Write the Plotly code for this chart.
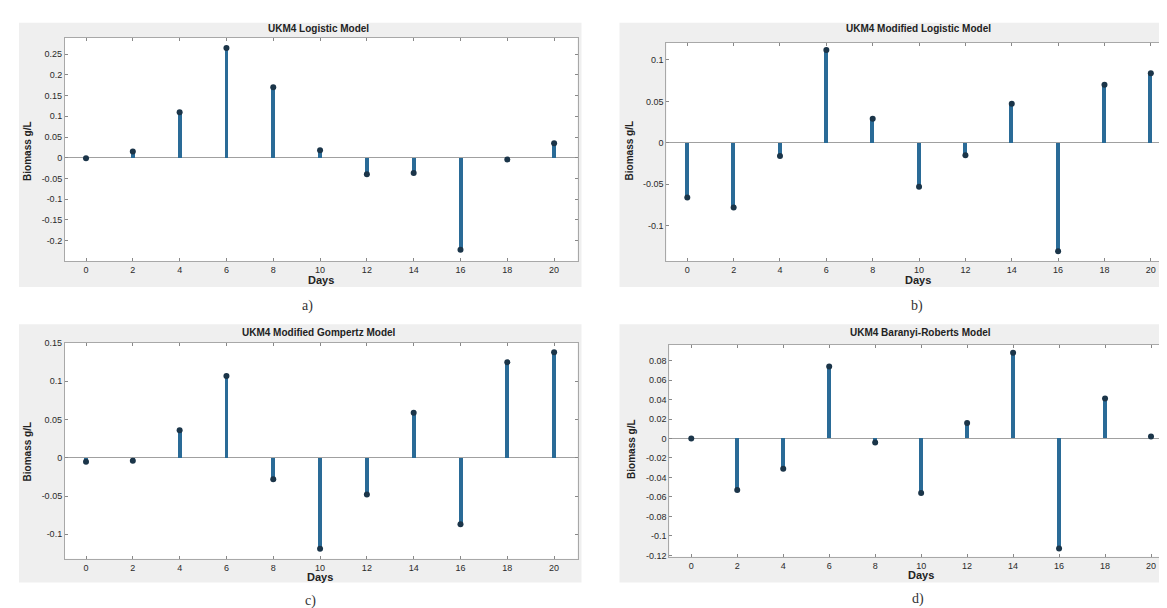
import plotly.graph_objects as go

days = [0, 2, 4, 6, 8, 10, 12, 14, 16, 18, 20]
logistic = [-0.001, 0.015, 0.110, 0.265, 0.170, 0.018, -0.040, -0.037, -0.222, -0.004, 0.035]
mod_logistic = [-0.066, -0.078, -0.016, 0.112, 0.029, -0.053, -0.015, 0.047, -0.131, 0.070, 0.084]
mod_gompertz = [-0.005, -0.004, 0.036, 0.107, -0.028, -0.119, -0.048, 0.059, -0.087, 0.125, 0.138]
baranyi = [0.000, -0.053, -0.031, 0.074, -0.004, -0.056, 0.016, 0.088, -0.113, 0.041, 0.002]

titles = ["UKM4 Logistic Model", "UKM4 Modified Logistic Model",
          "UKM4 Modified Gompertz Model", "UKM4 Baranyi-Roberts Model"]
letters = ["a)", "b)", "c)", "d)"]
series = [logistic, mod_logistic, mod_gompertz, baranyi]
ytick_sets = [
    [-0.2, -0.15, -0.1, -0.05, 0, 0.05, 0.1, 0.15, 0.2, 0.25],
    [-0.1, -0.05, 0, 0.05, 0.1],
    [-0.1, -0.05, 0, 0.05, 0.1, 0.15],
    [-0.12, -0.1, -0.08, -0.06, -0.04, -0.02, 0, 0.02, 0.04, 0.06, 0.08],
]
ytick_text = [
    ["-0.2", "-0.15", "-0.1", "-0.05", "0", "0.05", "0.1", "0.15", "0.2", "0.25"],
    ["-0.1", "-0.05", "0", "0.05", "0.1"],
    ["-0.1", "-0.05", "0", "0.05", "0.1", "0.15"],
    ["-0.12", "-0.1", "-0.08", "-0.06", "-0.04", "-0.02", "0", "0.02", "0.04", "0.06", "0.08"],
]
yranges = [[-0.25, 0.29], [-0.143, 0.121], [-0.132, 0.15], [-0.1215, 0.096]]

W, H = 1167, 608
# pixel boxes for plot areas: (left, right, top, bottom)
boxes = [(57, 570, 25, 252), (659, 1167, 30, 252), (57, 570, 335, 554), (662, 1167, 337, 552)]
xranges = [[-0.9, 21.0], [-0.9, 21.0], [-0.9, 21.0], [-0.95, 21.0]]
# gray panel backgrounds (x0, x1, y0, y1) pixels
panels = [(11, 574, 10, 278), (612, 1167, 10, 278), (11, 574, 316, 578), (612, 1167, 316, 578)]
# text positions in pixels
title_pos = [(311, 16), (911, 16), (311, 324), (913, 324)]
days_pos = [(313, 271), (911, 271), (312, 572), (914, 570)]
ylab_pos = [(20, 140), (622, 140), (19, 445), (624, 443)]
letter_pos = [(300, 297), (910, 297), (303, 597), (911, 595)]

STEM = "#2a6b97"
MARK = "#1b3549"

fig = go.Figure()
shapes = []
annotations = []

def px(x):
    return x / W

def py(y):
    return 1 - y / H

for i in range(4):
    k = "" if i == 0 else str(i + 1)
    xa, ya = "x" + k, "y" + k
    fig.add_trace(go.Bar(x=days, y=series[i], width=0.17, marker=dict(color=STEM, line=dict(width=0)),
                         xaxis=xa, yaxis=ya, showlegend=False, hoverinfo="x+y"))
    fig.add_trace(go.Scatter(x=days, y=series[i], mode="markers",
                             marker=dict(color=MARK, size=6, symbol="circle"),
                             xaxis=xa, yaxis=ya, showlegend=False))
    l, r, t, b = boxes[i]
    axis_common = dict(showline=True, linecolor="#a8a8a8", linewidth=1, mirror="ticks",
                       ticks="inside", ticklen=3, tickcolor="#888", showgrid=False,
                       tickfont=dict(family="Liberation Sans", size=9, color="#2a2a2a"))
    fig.layout["xaxis" + k] = dict(domain=[px(l), px(r)], anchor=ya, range=xranges[i],
                                   tickvals=days, ticktext=[str(d) for d in days],
                                   zeroline=False, **axis_common)
    fig.layout["yaxis" + k] = dict(domain=[py(b), py(t)], anchor=xa, range=yranges[i],
                                   tickvals=ytick_sets[i], ticktext=ytick_text[i],
                                   zeroline=True, zerolinecolor="#a0a0a0", zerolinewidth=1,
                                   **axis_common)
    x0, x1, y0, y1 = panels[i]
    shapes.append(dict(type="rect", xref="paper", yref="paper", x0=px(x0), x1=px(x1),
                       y0=py(y1), y1=py(y0), fillcolor="#efefef", line=dict(width=0), layer="below"))
    shapes.append(dict(type="rect", xref="paper", yref="paper", x0=px(l), x1=px(r),
                       y0=py(b), y1=py(t), fillcolor="white", line=dict(width=0), layer="below"))
    tx, ty = title_pos[i]
    annotations.append(dict(text="<b>" + titles[i] + "</b>", x=px(tx), y=py(ty), xref="paper", yref="paper",
                            showarrow=False, xanchor="center", yanchor="middle",
                            font=dict(family="Liberation Sans", size=10, color="#222")))
    dx, dy = days_pos[i]
    annotations.append(dict(text="<b>Days</b>", x=px(dx), y=py(dy), xref="paper", yref="paper",
                            showarrow=False, xanchor="center", yanchor="middle",
                            font=dict(family="Liberation Sans", size=11, color="#222")))
    lx, ly = ylab_pos[i]
    annotations.append(dict(text="<b>Biomass g/L</b>", x=px(lx), y=py(ly), xref="paper", yref="paper",
                            showarrow=False, xanchor="center", yanchor="middle", textangle=-90,
                            font=dict(family="Liberation Sans", size=10, color="#222")))
    ax_, ay_ = letter_pos[i]
    annotations.append(dict(text=letters[i], x=px(ax_), y=py(ay_), xref="paper", yref="paper",
                            showarrow=False, xanchor="center", yanchor="middle",
                            font=dict(family="Liberation Serif", size=14, color="#333")))

fig.update_layout(width=W, height=H, margin=dict(l=0, r=0, t=0, b=0),
                  paper_bgcolor="white", plot_bgcolor="white",
                  shapes=shapes, annotations=annotations, bargap=0, showlegend=False)
fig.write_html("out.html")
